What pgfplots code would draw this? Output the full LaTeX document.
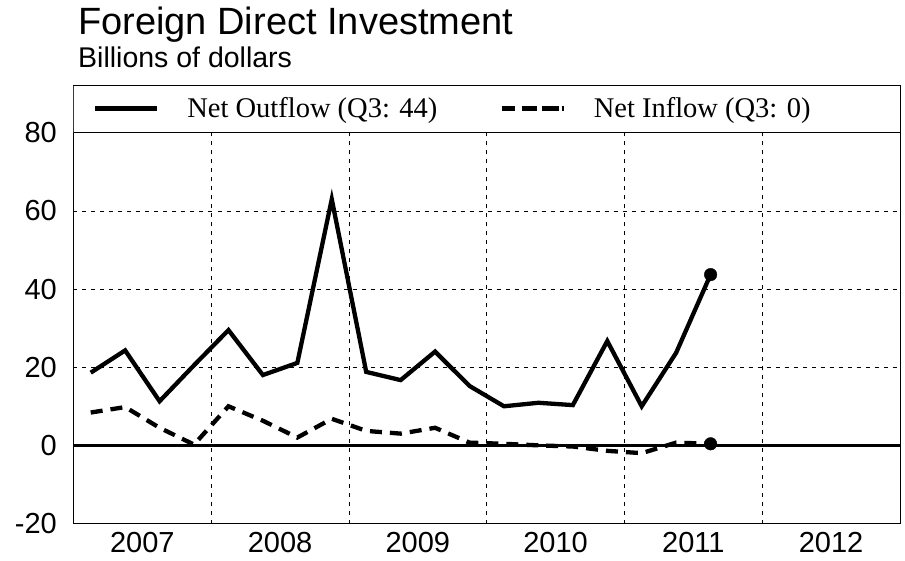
\documentclass[border=0pt]{standalone}
\usepackage{pgfplots}
\pgfplotsset{compat=1.18}
\usepackage{fontspec}
\setmainfont{Liberation Sans}
\newfontfamily\timesf{Liberation Serif}
\pgfplotsset{
  solidleg/.style={legend image code/.code={\draw[##1] (0pt,0pt) -- (62pt,0pt);}},
  dashleg/.style={legend image code/.code={\draw[##1, dash pattern=on 13pt off 9pt] (0pt,0pt) -- (57pt,0pt); \path (0pt,0pt) -- (62pt,0pt);}},
}

\begin{document}
\begin{tikzpicture}[x=1pt,y=1pt]
\useasboundingbox (-73.5,-36.5) rectangle (831.5,523.5);
\node[anchor=base west, inner sep=0pt, font=\fontsize{38}{38}\selectfont] at (4.5,488.5) {Foreign Direct Investment};
\node[anchor=base west, inner sep=0pt, font=\fontsize{28.5}{28.5}\selectfont] at (4.5,456) {Billions of dollars};
\begin{axis}[
  at={(0,0)}, anchor=south west,
  scale only axis, width=826.5pt, height=437.6pt,
  xmin=2007, xmax=2013, ymin=-20, ymax=92,
  xtick={2007.5,2008.5,2009.5,2010.5,2011.5,2012.5},
  xticklabels={2007,2008,2009,2010,2011,2012},
  ytick={-20,0,20,40,60,80},
  extra x ticks={2008,2009,2010,2011,2012},
  extra x tick labels={},
  extra x tick style={grid=major},
  ymajorgrids,
  major grid style={black, line width=0.8pt, dash pattern=on 4pt off 5pt},
  major tick length=0pt,
  axis line style={line width=1pt},
  /pgf/number format/assume math mode=true,
  ticklabel style={font=\fontsize{29}{29}\selectfont, inner sep=0pt},
  yticklabel style={xshift=-16.5pt},
  xticklabel style={yshift=-8.5pt},
  legend columns=2,
  legend style={at={(axis cs:2007.142,86.2)}, anchor=west, draw=none, fill=none,
    inner sep=0pt, outer sep=0pt, font=\timesf\fontsize{28.5}{28.5}\selectfont,
    nodes={inner sep=0pt},
    /tikz/every odd column/.append style={column sep=28pt},
    /tikz/every even column/.append style={column sep=62pt}},
]
\addplot[black, line width=2.5pt, forget plot] coordinates {(2007,0) (2013,0)};
\fill[white] (axis cs:2007,80) rectangle (axis cs:2013,92);
\draw[line width=1pt] (axis cs:2007,80) -- (axis cs:2013,80);
\draw[line width=1pt] (rel axis cs:0,0) rectangle (rel axis cs:1,1);

\addplot[black, line width=4.3pt, solidleg]
coordinates {
(2007.125,18.6) (2007.375,24.3) (2007.625,11.3) (2007.875,20.5)
(2008.125,29.5) (2008.375,18.0) (2008.625,21.1) (2008.875,63.0)
(2009.125,18.8) (2009.375,16.7) (2009.625,24.0) (2009.875,15.2)
(2010.125,10.0) (2010.375,10.9) (2010.625,10.3) (2010.875,26.7)
(2011.125,10.0) (2011.375,23.7) (2011.625,43.7)
};
\addlegendentry{Net Outflow (Q3: 44)}

\addplot[black, line width=4.3pt, dash pattern=on 12pt off 8pt, dashleg]
coordinates {
(2007.125,8.4) (2007.375,9.8) (2007.625,4.5) (2007.875,0.2)
(2008.125,10.0) (2008.375,6.3) (2008.625,2.0) (2008.875,6.8)
(2009.125,3.7) (2009.375,3.0) (2009.625,4.5) (2009.875,0.7)
(2010.125,0.4) (2010.375,0.0) (2010.625,-0.3) (2010.875,-1.4)
(2011.125,-2.0) (2011.375,0.7) (2011.625,0.4)
};
\addlegendentry{Net Inflow (Q3: 0)}

\addplot[black, only marks, mark=*, mark size=6.3pt, forget plot]
coordinates {(2011.625,43.7) (2011.625,0.4)};
\end{axis}
\end{tikzpicture}
\end{document}
